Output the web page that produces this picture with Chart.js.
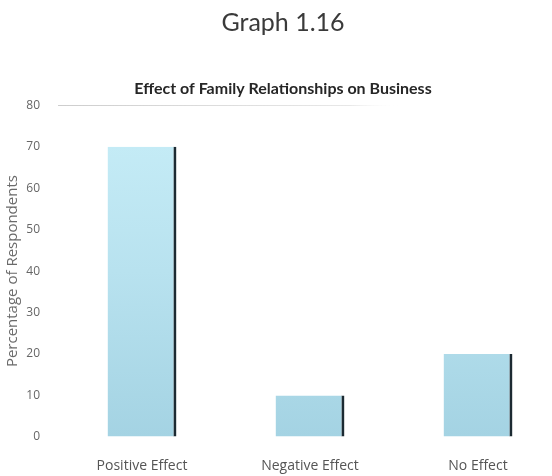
<!DOCTYPE html>
<html>
<head>
<meta charset="utf-8">
<script src="https://cdn.jsdelivr.net/npm/chart.js@4.4.1/dist/chart.umd.min.js"></script>
<style>
  html, body { margin: 0; padding: 0; background: #ffffff; overflow: hidden; }
  #wrap { width: 552px; height: 476px; overflow: hidden; position: relative; }
  #box { width: 570px; height: 476px; position: absolute; left: 0; top: 0; }
</style>
</head>
<body>
<div id="wrap"><div id="box"><canvas id="chart"></canvas></div></div>
<script>
// Survey responses: effect of family relationships on business
const categories = ['Positive Effect', 'Negative Effect', 'No Effect'];
const percentages = [70, 10, 20];
const yTicks = [0, 10, 20, 30, 40, 50, 60, 70, 80];

const TITLE_FONT = 'Lato, "Open Sans", "DejaVu Sans", sans-serif';
const LABEL_FONT = '"Open Sans", Lato, "DejaVu Sans", sans-serif';

// Light-blue vertical gradient for the bars
function barFill(context) {
  const chart = context.chart;
  const area = chart.chartArea;
  if (!area) return '#b9e3f0';
  const g = chart.ctx.createLinearGradient(0, area.top, 0, area.bottom);
  g.addColorStop(0, '#c8eef8');
  g.addColorStop(0.5, '#b8e2ef');
  g.addColorStop(1, '#a4d3e3');
  return g;
}

// Only the top gridline is shown, fading out to the right
function gridColor(context) {
  if (context.tick && context.tick.value === 80) {
    const g = context.chart.ctx.createLinearGradient(60, 0, 400, 0);
    g.addColorStop(0, 'rgba(200,200,200,0.9)');
    g.addColorStop(0.85, 'rgba(215,215,215,0.6)');
    g.addColorStop(1, 'rgba(255,255,255,0)');
    return g;
  }
  return 'rgba(0,0,0,0)';
}

new Chart(document.getElementById('chart'), {
  type: 'bar',
  data: {
    labels: categories,
    datasets: [{
      data: percentages,
      backgroundColor: barFill,
      borderColor: '#1c2a32',
      borderWidth: { top: 0, left: 0, bottom: 0, right: 3 },
      borderSkipped: false,
      barPercentage: 0.41,
      categoryPercentage: 1.0
    }]
  },
  options: {
    responsive: true,
    maintainAspectRatio: false,
    animation: false,
    layout: { padding: { top: 0, left: 4, right: 8, bottom: 0 } },
    plugins: {
      legend: { display: false },
      tooltip: { enabled: false },
      title: {
        display: true,
        text: 'Graph 1.16',
        color: '#3a3a3a',
        font: { family: TITLE_FONT, size: 25, weight: 'normal' },
        padding: { top: 8, bottom: 0 }
      },
      subtitle: {
        display: true,
        text: 'Effect of Family Relationships on Business',
        color: '#262626',
        font: { family: TITLE_FONT, size: 16, weight: 'bold' },
        padding: { top: 41, bottom: 7 }
      }
    },
    scales: {
      x: {
        offset: true,
        grid: { display: false },
        border: { display: false },
        ticks: {
          color: '#555555',
          font: { family: LABEL_FONT, size: 14 },
          padding: 13
        },
        afterFit: (axis) => { axis.height = 39; }
      },
      y: {
        min: 0,
        max: 80,
        afterBuildTicks: (axis) => { axis.ticks = yTicks.map(v => ({ value: v })); },
        grid: { color: gridColor, drawTicks: false, lineWidth: 1 },
        border: { display: false },
        ticks: {
          color: '#666666',
          font: { family: LABEL_FONT, size: 12 },
          padding: 18
        },
        title: {
          display: true,
          text: 'Percentage of Respondents',
          color: '#6a6a6a',
          font: { family: LABEL_FONT, size: 15 },
          padding: { top: 0, bottom: 0 }
        },
        afterFit: (axis) => { axis.width = 54; }
      }
    }
  }
});
</script>
</body>
</html>
